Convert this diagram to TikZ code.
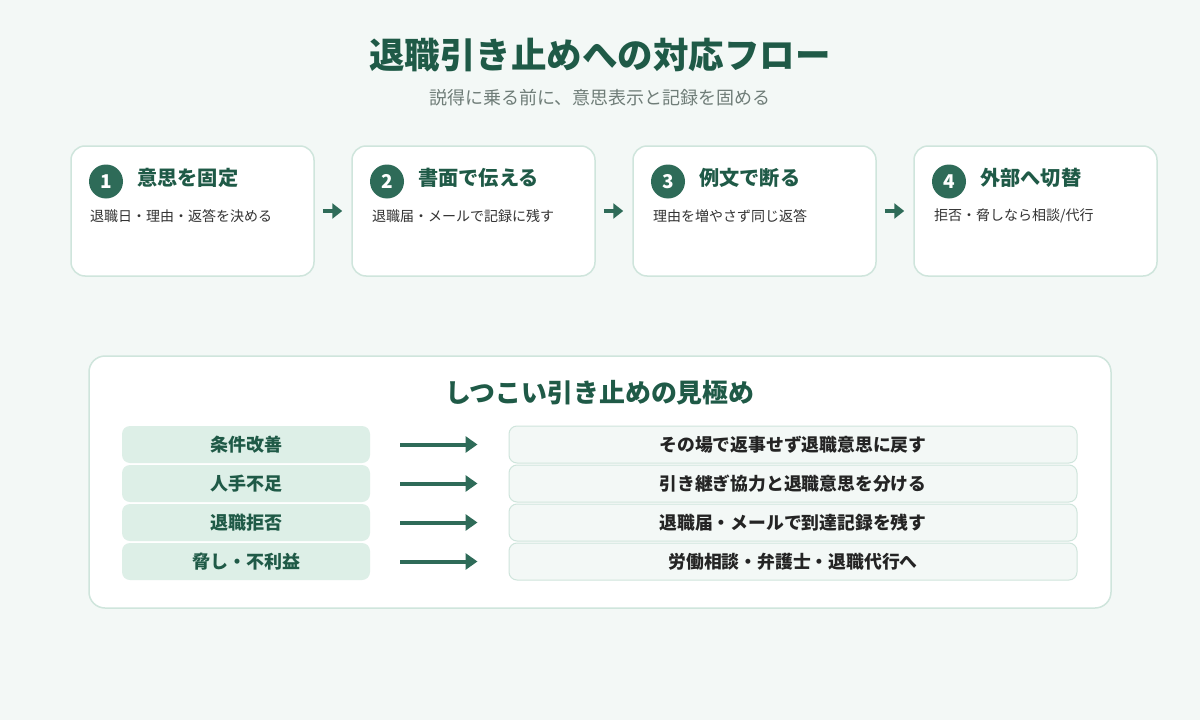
\documentclass[tikz,border=0pt]{standalone}
\usepackage{fontspec}
\setmainfont{Noto Sans CJK JP}
\usetikzlibrary{arrows.meta,positioning}

\definecolor{pagebg}{HTML}{F3F8F6}
\definecolor{deepgreen}{HTML}{1F5A47}
\definecolor{markgreen}{HTML}{2E6B58}
\definecolor{edgegreen}{HTML}{CFE5DC}
\definecolor{softgreen}{HTML}{DDEFE7}
\definecolor{subgray}{HTML}{6F7D78}
\definecolor{bodytext}{HTML}{333333}

\tikzset{
  card/.style={draw=edgegreen, line width=1.5pt, fill=white, rounded corners=14pt,
    minimum width=243, minimum height=130},
  stepmark/.style={circle, fill=markgreen, text=white, minimum size=34, inner sep=0pt,
    font=\fontsize{19}{22}\selectfont\bfseries},
  stephead/.style={anchor=west, text=deepgreen, inner sep=0pt, font=\fontsize{20.2}{24}\selectfont\bfseries},
  stepbody/.style={anchor=west, text=bodytext, inner sep=0pt, font=\fontsize{14}{17}\selectfont},
  steparrow/.style={draw=markgreen, line width=4.5pt, -{Triangle[length=10pt,width=15pt]},
    shorten <=8pt, shorten >=9pt},
  cause/.style={fill=softgreen, rounded corners=8pt, minimum width=248, minimum height=37,
    text=deepgreen, font=\fontsize{18}{21}\selectfont\bfseries},
  answer/.style={draw=edgegreen, line width=1pt, fill=pagebg, rounded corners=8pt,
    minimum width=568, minimum height=37, text=bodytext!70!black, font=\fontsize{17.8}{21}\selectfont\bfseries},
  rowarrow/.style={draw=markgreen, line width=4pt, -{Triangle[length=12pt,width=16pt]},
    shorten <=30pt, shorten >=31pt}
}

\begin{document}
\begin{tikzpicture}[x=1pt, y=-1pt]

  % Background
  \fill[pagebg] (0,0) rectangle (1200,720);
  \useasboundingbox (0,0) rectangle (1200,720);

  % Title and subtitle
  \node[text=deepgreen, font=\fontsize{35.5}{40}\selectfont\bfseries] (title) at (600,55) {退職引き止めへの対応フロー};
  \node[text=subgray, font=\fontsize{18}{21}\selectfont] (subtitle) at (600,98) {説得に乗る前に、意思表示と記録を固める};

  % Step cards
  \node[card] (c1) at (192.5,211) {};
  \node[card] (c2) at (473.5,211) {};
  \node[card] (c3) at (754.5,211) {};
  \node[card] (c4) at (1035.5,211) {};

  % Step 1
  \node[stepmark] (m1) at (106,181.5) {1};
  \node[stephead] (h1) at (137,178) {意思を固定};
  \node[stepbody] (b1) at (90,216) {退職日・理由・返答を決める};

  % Step 2
  \node[stepmark] (m2) at (387,181.5) {2};
  \node[stephead] (h2) at (418,178) {書面で伝える};
  \node[stepbody] (b2) at (372,216) {退職届・メールで記録に残す};

  % Step 3
  \node[stepmark] (m3) at (668,181.5) {3};
  \node[stephead] (h3) at (699,178) {例文で断る};
  \node[stepbody] (b3) at (653,216) {理由を増やさず同じ返答};

  % Step 4
  \node[stepmark] (m4) at (949,181.5) {4};
  \node[stephead] (h4) at (980,178) {外部へ切替};
  \node[stepbody] (b4) at (934,216) {拒否・脅しなら相談/代行};

  % Arrows between the steps
  \draw[steparrow] (c1) -- (c2);
  \draw[steparrow] (c2) -- (c3);
  \draw[steparrow] (c3) -- (c4);

  % Lower panel
  \node[draw=edgegreen, line width=1.5pt, fill=white, rounded corners=16pt,
    minimum width=1022, minimum height=252] (panel) at (600,482) {};
  \node[text=deepgreen, font=\fontsize{25.9}{30}\selectfont\bfseries] (ptitle) at (600,393) {しつこい引き止めの見極め};

  % Causes
  \node[cause] (k1) at (246,444.5) {条件改善};
  \node[cause] (k2) at (246,483.5) {人手不足};
  \node[cause] (k3) at (246,522.5) {退職拒否};
  \node[cause] (k4) at (246,561.5) {脅し・不利益};

  % Answers
  \node[answer] (a1) at (793,444.5) {その場で返事せず退職意思に戻す};
  \node[answer] (a2) at (793,483.5) {引き継ぎ協力と退職意思を分ける};
  \node[answer] (a3) at (793,522.5) {退職届・メールで到達記録を残す};
  \node[answer] (a4) at (793,561.5) {労働相談・弁護士・退職代行へ};

  % Arrows from cause to answer
  \draw[rowarrow] (k1) -- (a1);
  \draw[rowarrow] (k2) -- (a2);
  \draw[rowarrow] (k3) -- (a3);
  \draw[rowarrow] (k4) -- (a4);

\end{tikzpicture}
\end{document}
